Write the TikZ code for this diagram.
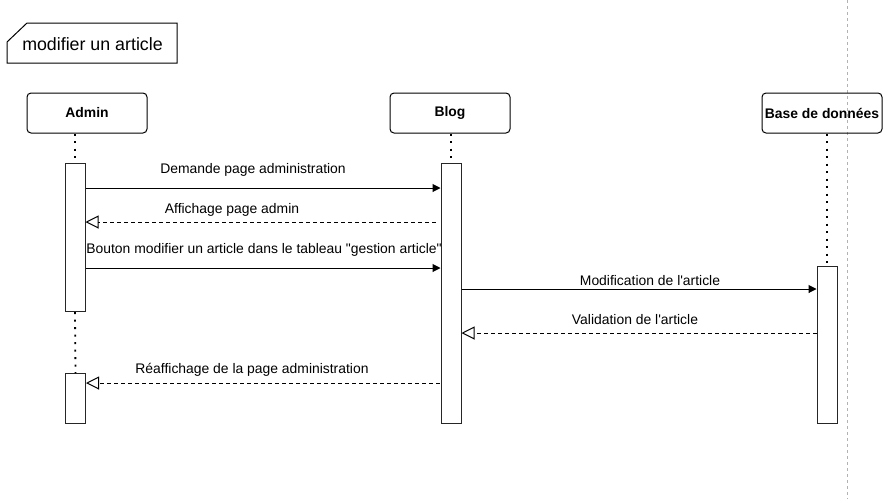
\documentclass[tikz,border=0pt]{standalone}
\usepackage{fontspec}
\newfontfamily\arialf{Liberation Sans}
\usetikzlibrary{arrows.meta}
\tikzset{
  actor/.style={draw, line width=1pt, rounded corners=4pt, minimum width=120pt, minimum height=40pt, inner sep=0pt, font=\arialf\bfseries\fontsize{13.9}{16}\selectfont},
  actbar/.style={draw=black!85, line width=1pt, fill=white, minimum width=20pt, inner sep=0pt, anchor=north},
  life/.style={line width=1.8pt, dash pattern=on 2pt off 5.5pt},
  msg/.style={line width=1pt, -{Triangle[length=8pt,width=8pt]}},
  ret/.style={line width=1pt, dash pattern=on 4pt off 3pt, -{Triangle[open,length=13pt,width=13pt,line width=1pt]}},
  lbl/.style={font=\arialf\fontsize{13.9}{16}\selectfont, inner sep=0pt},
  frametitle/.style={font=\arialf\fontsize{17.8}{20}\selectfont, inner sep=0pt}
}
\begin{document}
\begin{tikzpicture}[x=1pt,y=-1pt]
\useasboundingbox (0,0) rectangle (893,499);
% page separator
\draw[black!30, line width=0.8pt, dash pattern=on 3pt off 3pt] (847,0) -- (847,499);
% frame
\draw[line width=1pt] (7,42) -- (27,23) -- (177,23) -- (177,63) -- (7,63) -- cycle;
\node[frametitle] (title) at (92.5,44) {modifier un article};
% actors
\node[actor] (admin) at (87,113) {\raisebox{-1pt}{Admin}};
\node[actor] (blog) at (450,113) {\raisebox{-1pt}{Blog}};
\node[actor] (base) at (822,113) {\raisebox{-1pt}{Base de données}};
% activation bars
\node[actbar, minimum height=148pt] (a1) at (75,163) {};
\node[actbar, minimum height=50pt] (a2) at (75.5,373) {};
\node[actbar, minimum height=260pt] (b1) at (451,163) {};
\node[actbar, minimum height=157pt] (c1) at (827,266) {};
% lifelines
\draw[life] (admin.south -| a1.north) -- (a1.north);
\draw[life] (a1.south) -- (a2.north);
\draw[life] (blog.south -| b1.north) -- (b1.north);
\draw[life] (base.south -| c1.north) -- (c1.north);
% messages
\draw[msg] (a1.east |- 0,188) -- (b1.west |- 0,188);
\node[lbl] (l1) at (253,169.5) {Demande page administration};
\draw[ret] ([xshift=-5pt]b1.west |- 0,222) -- (a1.east |- 0,222);
\node[lbl] (l2) at (232,209.5) {Affichage page admin};
\draw[msg] (a1.east |- 0,268) -- (b1.west |- 0,268);
\node[lbl] (l3) at (264,249.5) {Bouton modifier un article dans le tableau "gestion article"};
\draw[msg] (b1.east |- 0,289) -- (c1.west |- 0,289);
\node[lbl] (l4) at (650,280.5) {Modification de l'article};
\draw[ret] (c1.west |- 0,333) -- (b1.east |- 0,333);
\node[lbl] (l5) at (635,319.5) {Validation de l'article};
\draw[ret] ([xshift=-1pt]b1.west |- 0,383) -- (a2.east |- 0,383);
\node[lbl] (l6) at (252,369.5) {Réaffichage de la page administration};
\end{tikzpicture}
\end{document}
